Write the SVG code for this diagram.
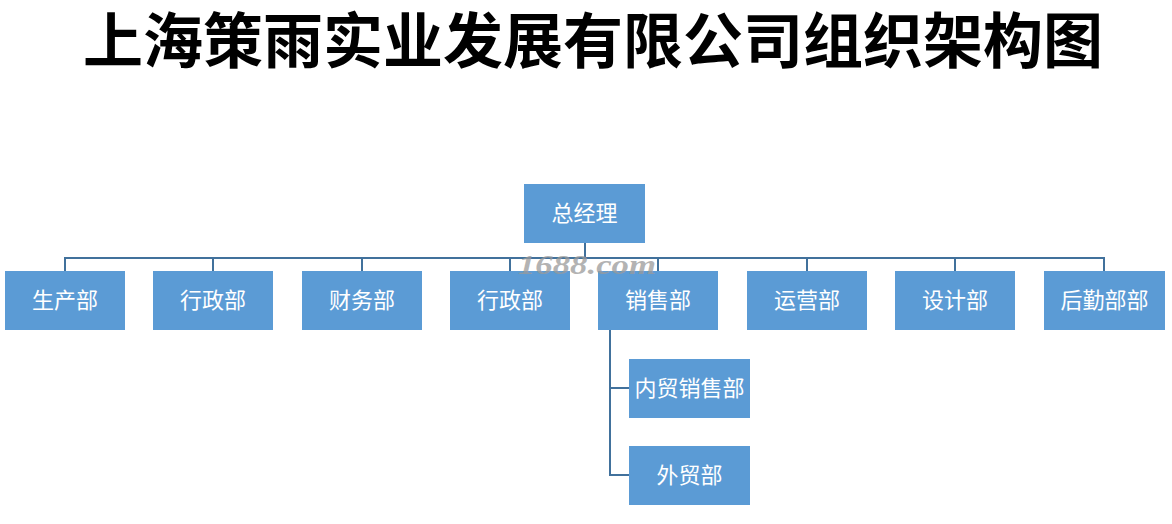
<svg xmlns="http://www.w3.org/2000/svg" width="1172" height="524" viewBox="0 0 1172 524">
<style>
.box{fill:#5b9bd5;}
.lbl{font-family:"Noto Sans CJK SC","Noto Sans",sans-serif;font-size:22px;fill:#ffffff;text-anchor:middle;}
.ln{stroke:#41719c;stroke-width:2;fill:none;}
.title{font-family:"Noto Sans CJK SC",sans-serif;font-weight:bold;font-size:60px;fill:#000000;text-anchor:middle;}
.wm{font-family:"Liberation Serif",serif;font-style:italic;font-weight:bold;font-size:28px;fill:#9a9a9a;fill-opacity:0.75;}
</style>
<rect width="1172" height="524" fill="#ffffff"/>
<text class="title" x="593" y="63">上海策雨实业发展有限公司组织架构图</text>
<g id="connectors">
<path class="ln" d="M585 243V258M65 271V258H1104V271M213 258V271M362 258V271M510 258V271M658 258V271M807 258V271M955 258V271"/>
<path class="ln" d="M610 330V475H629M610 388H629"/>
</g>
<g id="n0"><rect class="box" x="524" y="184" width="121" height="59"/><text class="lbl" x="584.5" y="221">总经理</text></g>
<g id="n1"><rect class="box" x="5" y="271" width="120" height="59"/><text class="lbl" x="65" y="308">生产部</text></g>
<g id="n2"><rect class="box" x="153" y="271" width="120" height="59"/><text class="lbl" x="213" y="308">行政部</text></g>
<g id="n3"><rect class="box" x="302" y="271" width="120" height="59"/><text class="lbl" x="362" y="308">财务部</text></g>
<g id="n4"><rect class="box" x="450" y="271" width="120" height="59"/><text class="lbl" x="510" y="308">行政部</text></g>
<g id="n5"><rect class="box" x="598" y="271" width="120" height="59"/><text class="lbl" x="658" y="308">销售部</text></g>
<g id="n6"><rect class="box" x="747" y="271" width="120" height="59"/><text class="lbl" x="807" y="308">运营部</text></g>
<g id="n7"><rect class="box" x="895" y="271" width="120" height="59"/><text class="lbl" x="955" y="308">设计部</text></g>
<g id="n8"><rect class="box" x="1044" y="271" width="121" height="59"/><text class="lbl" x="1104.5" y="308">后勤部部</text></g>
<g id="n9"><rect class="box" x="629" y="359" width="121" height="59"/><text class="lbl" x="689.5" y="396">内贸销售部</text></g>
<g id="n10"><rect class="box" x="629" y="446" width="121" height="59"/><text class="lbl" x="689.5" y="483">外贸部</text></g>
<text class="wm" x="518" y="274" textLength="138" lengthAdjust="spacingAndGlyphs">1688.com</text>
</svg>
